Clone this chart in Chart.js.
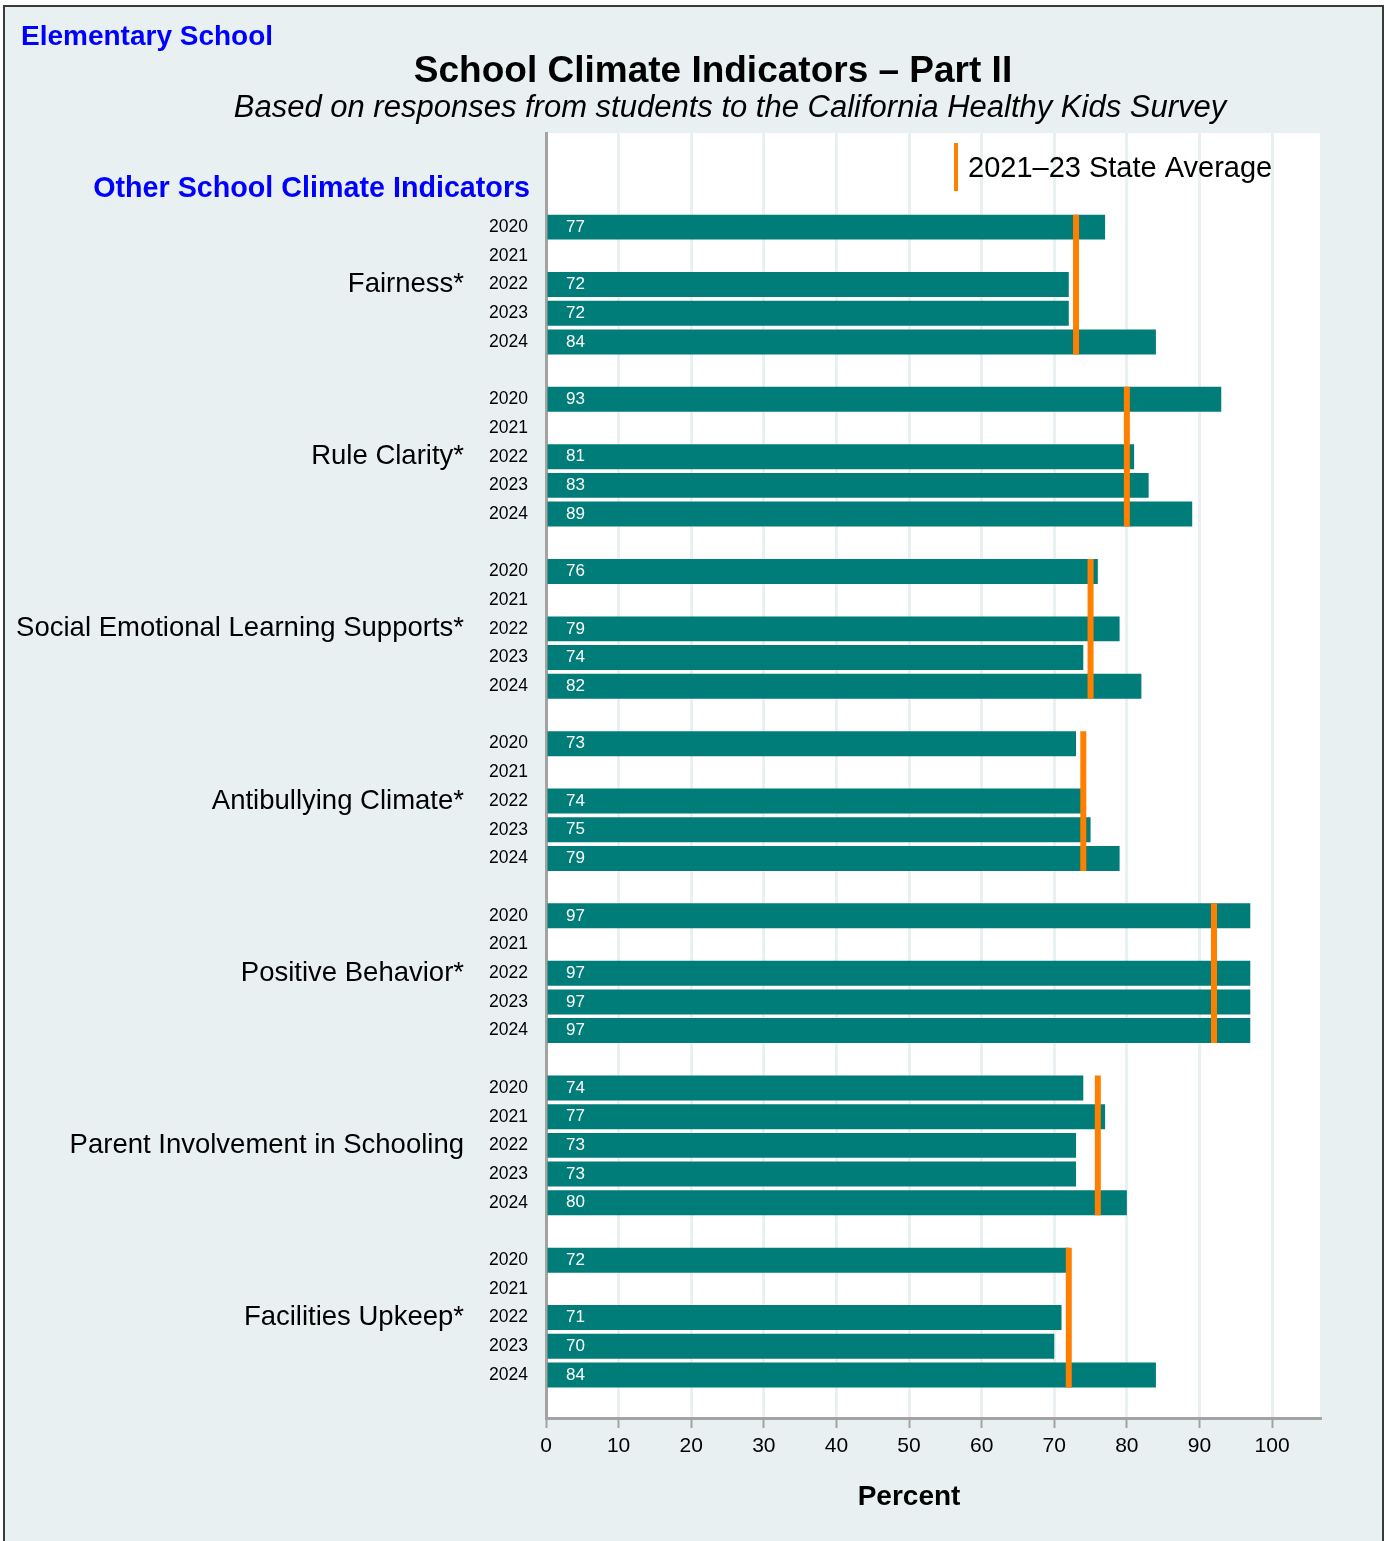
<!DOCTYPE html>
<html>
<head>
<meta charset="utf-8">
<script src="https://cdn.jsdelivr.net/npm/chart.js@4.4.1/dist/chart.umd.min.js"></script>
<style>
  html, body { margin: 0; padding: 0; background: #fff; }
  canvas { display: block; }
</style>
</head>
<body>
<canvas id="chart" width="1387" height="1541"></canvas>
<script>
// indicator groups and survey years
const groups = [
  "Fairness*",
  "Rule Clarity*",
  "Social Emotional Learning Supports*",
  "Antibullying Climate*",
  "Positive Behavior*",
  "Parent Involvement in Schooling",
  "Facilities Upkeep*"
];
const years = ["2020", "2021", "2022", "2023", "2024"];

// percent per year (2020..2024), null = no data
const fairness      = [77, null, 72, 72, 84];
const ruleClarity   = [93, null, 81, 83, 89];
const selSupports   = [76, null, 79, 74, 82];
const antibullying  = [73, null, 74, 75, 79];
const posBehavior   = [97, null, 97, 97, 97];
const parentInvolve = [74, 77, 73, 73, 80];
const facilities    = [72, null, 71, 70, 84];

// 2021-23 state average per group
const stateAverage = [73, 80, 75, 74, 92, 76, 72];

const BG = "#e8f0f2";
const TEAL = "#007d79";
const ORANGE = "#ff8000";
const AXIS = "#a3a3a3";
const FONT = "'Liberation Sans', Arial, sans-serif";
const BAR_PCT = 0.87;

const series = [fairness, ruleClarity, selSupports, antibullying, posBehavior, parentInvolve, facilities];
const rowsPerGroup = years.length + 1;

// bars: one row per year, a blank row between groups
const barPoints = [];
series.forEach((vals, g) => {
  vals.forEach((v, k) => barPoints.push({ y: g * rowsPerGroup + k, x: v }));
});

// state average: vertical line over each group's bars
const avgPoints = [];
stateAverage.forEach((v, g) => {
  const r = g * rowsPerGroup;
  avgPoints.push({ x: v, y: r - BAR_PCT / 2 });
  avgPoints.push({ x: v, y: r + years.length - 1 + BAR_PCT / 2 });
  avgPoints.push({ x: null, y: r + years.length });
});

const yearTicks = [];
groups.forEach((_, g) => years.forEach((_, k) => yearTicks.push(g * rowsPerGroup + k)));
const groupTicks = groups.map((_, g) => g * rowsPerGroup + 2);

const yMin = -3.28;
const yMax = (groups.length - 1) * rowsPerGroup + years.length - 1 + 1.5;

function drawText(ctx, txt, x, y, font, color, align) {
  ctx.font = font;
  ctx.fillStyle = color;
  ctx.textAlign = align || "left";
  ctx.textBaseline = "middle";
  ctx.fillText(txt, x, y);
}

const decor = {
  id: "decor",
  beforeDraw(chart) {
    const { ctx, chartArea: a } = chart;
    ctx.save();
    ctx.fillStyle = "#fff";
    ctx.fillRect(0, 0, chart.width, chart.height);
    ctx.fillStyle = BG;
    ctx.fillRect(4, 6, 1379, chart.height);
    ctx.strokeStyle = "#3a3a3a";
    ctx.lineWidth = 2;
    ctx.strokeRect(4, 6, 1379, chart.height + 20);
    ctx.fillStyle = "#fff";
    ctx.fillRect(a.left, a.top, a.right - a.left, a.bottom - a.top);
    ctx.restore();
  },
  afterDatasetsDraw(chart) {
    const { ctx } = chart;
    const x0 = chart.scales.x.getPixelForValue(0);
    const meta = chart.getDatasetMeta(1);
    ctx.save();
    meta.data.forEach((bar, i) => {
      const v = barPoints[i].x;
      if (v == null) return;
      drawText(ctx, String(v), x0 + 20, bar.y, "17px " + FONT, "#fff");
    });
    ctx.restore();
  },
  afterDraw(chart) {
    const { ctx } = chart;
    const xs = chart.scales.x;
    ctx.save();
    drawText(ctx, "Elementary School", 21, 37, "bold 28px " + FONT, "#0000ff");
    drawText(ctx, "School Climate Indicators \u2013 Part II", 713, 72, "bold 37px " + FONT, "#000", "center");
    drawText(ctx, "Based on responses from students to the California Healthy Kids Survey", 730, 108, "italic 31px " + FONT, "#000", "center");
    drawText(ctx, "Other School Climate Indicators", 530, 189, "bold 28.7px " + FONT, "#0000ff", "right");
    // axis title, centred under 0..100
    drawText(ctx, "Percent", xs.getPixelForValue(50), 1497, "bold 28px " + FONT, "#000", "center");
    // legend
    ctx.strokeStyle = ORANGE;
    ctx.lineWidth = 4;
    ctx.beginPath();
    ctx.moveTo(956, 143);
    ctx.lineTo(956, 191);
    ctx.stroke();
    drawText(ctx, "2021\u201323 State Average", 968, 169, "29px " + FONT, "#000");
    ctx.restore();
  }
};

new Chart(document.getElementById("chart"), {
  type: "bar",
  data: {
    datasets: [
      {
        type: "line",
        label: "2021\u201323 State Average",
        data: avgPoints,
        borderColor: ORANGE,
        borderWidth: 6,
        borderCapStyle: "butt",
        pointRadius: 0,
        spanGaps: false,
        order: 0
      },
      {
        label: "Percent",
        data: barPoints,
        backgroundColor: TEAL,
        borderWidth: 0,
        barPercentage: BAR_PCT,
        categoryPercentage: 1,
        order: 1
      }
    ]
  },
  options: {
    indexAxis: "y",
    responsive: false,
    animation: false,
    devicePixelRatio: 1,
    layout: { padding: { top: 133, right: 67, left: 0, bottom: 0 } },
    plugins: {
      legend: { display: false },
      tooltip: { enabled: false },
      title: { display: false }
    },
    scales: {
      x: {
        type: "linear",
        position: "bottom",
        min: 0,
        max: 106.6,
        grid: {
          color: BG,
          lineWidth: 3,
          drawTicks: true,
          tickLength: 10,
          tickColor: AXIS,
          tickWidth: 2
        },
        border: { display: true, color: AXIS, width: 3 },
        ticks: {
          stepSize: 10,
          includeBounds: false,
          padding: 6,
          color: "#000",
          font: { family: FONT, size: 21 }
        },
        title: { display: false },
        afterFit(axis) { axis.height = 123; }
      },
      y: {
        type: "linear",
        position: "left",
        reverse: true,
        offset: false,
        min: yMin,
        max: yMax,
        weight: 0,
        grid: { display: false, drawTicks: false, offset: false },
        border: { display: true, color: AXIS, width: 3 },
        afterBuildTicks(axis) {
          axis.ticks = yearTicks.map(v => ({ value: v }));
        },
        ticks: {
          autoSkip: false,
          padding: 18,
          color: "#000",
          font: { family: FONT, size: 17.5 },
          callback: (val, i) => years[i % years.length]
        },
        afterFit(axis) { axis.width = 60; }
      },
      yg: {
        type: "linear",
        position: "left",
        reverse: true,
        offset: false,
        min: yMin,
        max: yMax,
        weight: 1,
        grid: { display: false, drawTicks: false, offset: false },
        border: { display: false },
        afterBuildTicks(axis) {
          axis.ticks = groupTicks.map(v => ({ value: v }));
        },
        ticks: {
          autoSkip: false,
          padding: 22,
          color: "#000",
          font: { family: FONT, size: 27.5 },
          callback: (val, i) => groups[i]
        },
        afterFit(axis) { axis.width = 486; }
      }
    }
  },
  plugins: [decor]
});
</script>
</body>
</html>
